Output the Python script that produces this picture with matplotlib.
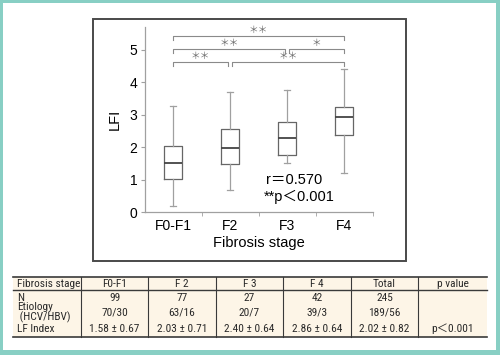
import matplotlib
matplotlib.use("Agg")
import matplotlib.pyplot as plt
from matplotlib.patches import Rectangle
from matplotlib import font_manager

# ---------------- data ----------------
stages = ["F0-F1", "F2", "F3", "F4"]
whisker_low = [0.17, 0.67, 1.51, 1.21]
q1 = [1.03, 1.47, 1.76, 2.39]
median = [1.51, 1.98, 2.28, 2.92]
q3 = [2.05, 2.57, 2.77, 3.25]
whisker_high = [3.28, 3.70, 3.75, 4.41]

yticks = [0, 1, 2, 3, 4, 5]
ylabel = "LFI"
xlabel = "Fibrosis stage"

# significance brackets: (left group, right group), level value, label
sig_pairs = [(0, 1), (1, 3), (0, 2), (2, 3), (0, 3)]
sig_levels = [4.63, 4.63, 5.03, 5.03, 5.43]
sig_labels = ["＊＊", "＊＊", "＊＊", "＊", "＊＊"]

stat_r = "r＝0.570"
stat_p = "**p＜0.001"

# table
table_header = ["Fibrosis stage", "F0-F1", "F 2", "F 3", "F 4", "Total", "p value"]
table_n = ["99", "77", "27", "42", "245", ""]
table_etiology = ["70/30", "63/16", "20/7", "39/3", "189/56", ""]
table_lfi = ["1.58 ± 0.67", "2.03 ± 0.71", "2.40 ± 0.64", "2.86 ± 0.64",
             "2.02 ± 0.82", "p＜0.001"]
row_labels = ["N", "Etiology\n (HCV/HBV)", "LF Index"]

# ---------------- style ----------------
W, H = 500, 355
TEAL = "#88cfc4"
CREAM = "#fdf5e7"
FAM = ["Liberation Sans", "Noto Sans CJK JP", "DejaVu Sans"]
plt.rcParams["font.family"] = FAM

available = {f.name for f in font_manager.fontManager.ttflist}
narrow = None
for cand in ["Liberation Sans Narrow", "Roboto Condensed", "Open Sans Condensed",
             "DejaVu Sans Condensed"]:
    if cand in available:
        narrow = cand
        break
if narrow is not None:
    TFAM = [narrow, "Noto Sans CJK JP", "DejaVu Sans"]
    tfs = 8.2
else:
    TFAM = FAM
    tfs = 7.4

fig = plt.figure(figsize=(W / 100, H / 100), dpi=100)
fig.patch.set_facecolor("white")

# overlay for frame / border / table (pixel coordinates, y down)
ov = fig.add_axes([0, 0, 1, 1], zorder=0)
ov.set_xlim(0, W)
ov.set_ylim(H, 0)
ov.axis("off")

# teal border
ov.add_patch(Rectangle((0, 0), W, 3, color=TEAL, lw=0))
ov.add_patch(Rectangle((0, 0), 3, H, color=TEAL, lw=0))
ov.add_patch(Rectangle((W - 4, 0), 4, H, color=TEAL, lw=0))
ov.add_patch(Rectangle((0, H - 5), W, 5, color=TEAL, lw=0))

# chart frame
ov.add_patch(Rectangle((93, 19), 313, 242, fill=False, ec="#4a4a4a", lw=1.4))

# ---------------- box plot ----------------
ax = fig.add_axes([144.5 / W, 1 - 212 / H, 228 / W, (212 - 27.3) / H], zorder=2)
ax.patch.set_alpha(0)
stats = []
for i, s in enumerate(stages):
    stats.append(dict(label=s, whislo=whisker_low[i], q1=q1[i], med=median[i],
                      q3=q3[i], whishi=whisker_high[i], fliers=[]))
ax.bxp(stats, positions=range(len(stages)), widths=0.33, capwidths=0.12,
       showfliers=False,
       boxprops=dict(color="#666666", lw=0.9),
       whiskerprops=dict(color="#a0a0a0", lw=0.9),
       capprops=dict(color="#a0a0a0", lw=0.9),
       medianprops=dict(color="#444444", lw=1.3))

ax.set_xlim(-0.5, len(stages) - 0.5)
ax.set_ylim(0, 5.7)
ax.set_yticks(yticks)
ax.set_xticks(range(len(stages)))
ax.set_xticklabels(stages)
ax.set_xticks([i + 0.5 for i in range(len(stages))], minor=True)
for sp in ["top", "right"]:
    ax.spines[sp].set_visible(False)
for sp in ["left", "bottom"]:
    ax.spines[sp].set_color("#a0a0a0")
    ax.spines[sp].set_linewidth(0.9)
ax.tick_params(axis="y", length=3, color="#a0a0a0", labelsize=10, pad=2)
ax.tick_params(axis="x", which="major", length=0, labelsize=10, pad=5)
ax.tick_params(axis="x", which="minor", length=3, color="#a0a0a0")
ax.set_ylabel(ylabel, fontsize=10.5, labelpad=6)
ax.set_xlabel(xlabel, fontsize=10.5, labelpad=2)

# significance brackets
gap = 0.03
tick_h = 0.12
for k, ((a, b), lev, lab) in enumerate(zip(sig_pairs, sig_levels, sig_labels)):
    xa, xb = a, b
    for j, ((c, d), lev2) in enumerate(zip(sig_pairs, sig_levels)):
        if j == k or lev2 != lev:
            continue
        if d == a:
            xa = a + gap
        if c == b:
            xb = b - gap
    ax.plot([xa, xa, xb, xb], [lev - tick_h, lev, lev, lev - tick_h],
            color="#8a8a8a", lw=0.8, clip_on=False)
    ax.text((xa + xb) / 2, lev + 0.18, lab, ha="center", va="center",
            fontsize=7, color="#6e6e6e", family=["Noto Sans CJK JP", "DejaVu Sans"],
            clip_on=False)

ax.text(1.63, 0.99, stat_r, ha="left", va="center", fontsize=10.5, family=FAM)
ax.text(1.60, 0.45, stat_p, ha="left", va="center", fontsize=10.5, family=FAM)

# ---------------- table ----------------
col_edges = [13, 81, 148, 216, 283, 351, 418, 487]
t_top, t_head, t_bot = 277, 290, 337
ov.add_patch(Rectangle((col_edges[0], t_top), col_edges[-1] - col_edges[0],
                       t_bot - t_top, color=CREAM, lw=0))
ov.plot([col_edges[0], col_edges[-1]], [t_top, t_top], color="#3a3a3a", lw=1.2)
ov.plot([col_edges[0], col_edges[-1]], [t_head, t_head], color="#3a3a3a", lw=1.0)
ov.plot([col_edges[0], col_edges[-1]], [t_bot, t_bot], color="#3a3a3a", lw=1.2)
for xe in col_edges[1:-1]:
    ov.plot([xe, xe], [t_top, t_bot], color="#3a3a3a", lw=0.8)

tcol = "#2a2a2a"
# header
ov.text(col_edges[0] + 4, (t_top + t_head) / 2 + 0.5, table_header[0], ha="left",
        va="center", fontsize=tfs, color=tcol, family=TFAM)
for i, h in enumerate(table_header[1:]):
    cx = (col_edges[i + 1] + col_edges[i + 2]) / 2
    ov.text(cx, (t_top + t_head) / 2 + 0.5, h, ha="center", va="center",
            fontsize=tfs, color=tcol, family=TFAM)

row_y = [298, 313, 329]
ov.text(col_edges[0] + 4, row_y[0], row_labels[0], ha="left", va="center",
        fontsize=tfs, color=tcol, family=TFAM)
ov.text(col_edges[0] + 4, 312.5, row_labels[1], ha="left", va="center",
        fontsize=tfs, color=tcol, linespacing=0.85, family=TFAM)
ov.text(col_edges[0] + 4, row_y[2], row_labels[2], ha="left", va="center",
        fontsize=tfs, color=tcol, family=TFAM)
for vals, yy in zip([table_n, table_etiology, table_lfi], row_y):
    for i, v in enumerate(vals):
        cx = (col_edges[i + 1] + col_edges[i + 2]) / 2
        ov.text(cx, yy, v, ha="center", va="center", fontsize=tfs, color=tcol,
                family=TFAM)

fig.savefig("out.png", dpi=100, facecolor="white")
